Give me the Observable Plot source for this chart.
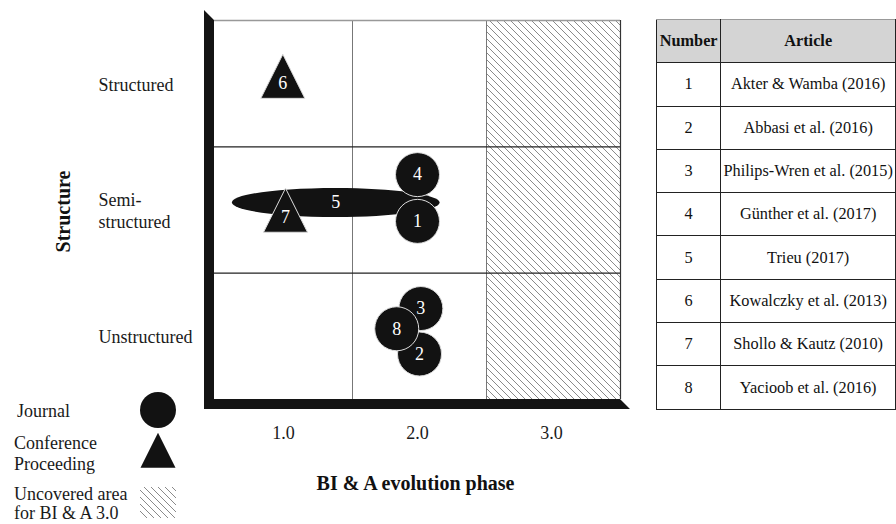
<!DOCTYPE html>
<html><head><meta charset="utf-8">
<script src="https://cdn.jsdelivr.net/npm/d3@7"></script>
<script src="https://cdn.jsdelivr.net/npm/@observablehq/plot@0.6"></script>
<style>
body{margin:0;background:#fff;}
#wrap{position:relative;width:896px;height:524px;overflow:hidden;background:#fff;}
#chart{position:absolute;left:0;top:0;}
#tbl{position:absolute;left:656px;top:19px;border-collapse:collapse;font-family:"Liberation Serif",serif;font-size:16.3px;color:#111;table-layout:fixed;}
#tbl td,#tbl th{padding:0;text-align:center;height:42.3px;border:1px solid #222;white-space:nowrap;}
#tbl th{background:#d4d4d4;border-top:1px solid #999;font-weight:bold;}
</style></head><body>
<div id="wrap"><div id="chart"></div><table id="tbl"></table></div>
<script>
// ---- data ----
const phases = [1, 2, 3];
const phaseLabels = ["1.0", "2.0", "3.0"];
const structureLabels = ["Unstructured", "Semi-\nstructured", "Structured"];
const uncoveredPhase = 3;
const articleNumbers = [1, 2, 3, 4, 5, 6, 7, 8];
const articleNames = ["Akter & Wamba (2016)", "Abbasi et al. (2016)", "Philips-Wren et al. (2015)", "Günther et al. (2017)", "Trieu (2017)", "Kowalczky et al. (2013)", "Shollo & Kautz (2010)", "Yacioob et al. (2016)"];
const articleTypes = ["Journal", "Journal", "Journal", "Journal", "Journal", "Conference Proceeding", "Conference Proceeding", "Journal"];
const articlePhase = [1.985, 2.0, 2.01, 1.985, 1.375, 0.98, 1.0, 1.83];
const articleStructure = [1.91, 0.86, 1.22, 2.28, 2.06, 3.0, 1.94, 1.06];
const articleSpan = [null, null, null, null, [0.6, 2.15], null, null, null];
const legendLabels = ["Journal", "Conference\nProceeding", "Uncovered area\nfor BI & A 3.0"];

// ---- symbols ----
const tallTriangle = {draw(ctx, size) {
  const r = Math.sqrt(size / Math.PI), h = 2 * r, w = 2 * r;
  ctx.moveTo(0, -2 * h / 3); ctx.lineTo(w / 2, h / 3); ctx.lineTo(-w / 2, h / 3); ctx.closePath();
}};
const flatEllipse = {draw(ctx, size) {
  const rx = Math.sqrt(size / Math.PI), ry = rx * 0.14, k = 0.5523;
  ctx.moveTo(-rx, 0);
  ctx.bezierCurveTo(-rx, -ry * k, -rx * k, -ry, 0, -ry);
  ctx.bezierCurveTo(rx * k, -ry, rx, -ry * k, rx, 0);
  ctx.bezierCurveTo(rx, ry * k, rx * k, ry, 0, ry);
  ctx.bezierCurveTo(-rx * k, ry, -rx, ry * k, -rx, 0);
  ctx.closePath();
}};

const W = 896, H = 524, mL = 214, mR = 276, mT = 20, mB = 125;
const xDom = [0.47, 3.5], yDom = [0.5, 3.5];
const pxPerPhase = (W - mL - mR) / (xDom[1] - xDom[0]);
const rows = articleNumbers.map((n, i) => ({
  n, name: articleNames[i], type: articleTypes[i],
  x: articleSpan[i] ? (articleSpan[i][0] + articleSpan[i][1]) / 2 : articlePhase[i],
  y: articleStructure[i], span: articleSpan[i]
}));
const spanned = rows.filter(d => d.span);
const journals = rows.filter(d => !d.span && d.type === "Journal");
const conferences = rows.filter(d => !d.span && d.type !== "Journal");
const rowBounds = d3.range(1, structureLabels.length).map(i => i + 0.5);
const font = "'Liberation Serif', 'Times New Roman', serif";

const chart = Plot.plot({
  width: W, height: H, marginLeft: mL, marginRight: mR, marginTop: mT, marginBottom: mB,
  x: {domain: xDom, axis: null},
  y: {domain: yDom, axis: null},
  style: {fontFamily: font, background: "white", overflow: "visible", color: "#111"},
  marks: [
    Plot.rect([uncoveredPhase], {x1: d => d - 0.5, x2: d => d + 0.5, y1: yDom[0], y2: yDom[1], fill: "url(#hatch)"}),
    Plot.ruleX(phases.slice(1), {x: d => d - 0.5, stroke: "#777", strokeWidth: 1}),
    Plot.ruleY(rowBounds, {stroke: "#222", strokeWidth: 1.3}),
    Plot.ruleY([yDom[1]], {stroke: "#999", strokeWidth: 1.5}),
    Plot.ruleX([xDom[1]], {stroke: "#333", strokeWidth: 1.2}),
    ...spanned.map(d => Plot.dot([d], {x: "x", y: "y", r: (d.span[1] - d.span[0]) / 2 * pxPerPhase, symbol: flatEllipse, fill: "#121212"})),
    Plot.dot(journals, {x: "x", y: "y", r: 22, fill: "#121212", stroke: "#ddd", strokeWidth: 1}),
    Plot.dot(conferences, {x: "x", y: "y", r: 22, symbol: tallTriangle, fill: "#121212", stroke: "#ddd", strokeWidth: 1}),
    Plot.text(rows, {x: "x", y: "y", text: d => String(d.n), fill: "white", fontSize: 18}),
    Plot.text(structureLabels, {x: xDom[0], y: (d, i) => i + 1, dx: -116, textAnchor: "start", fontSize: 18, lineHeight: 1.22, fill: "#1a1a1a"}),
    Plot.text(["Structure"], {x: xDom[0], y: 2, dx: -151, dy: 1.5, rotate: -90, fontWeight: "bold", fontSize: 20, fill: "#111"}),
    Plot.text(phases, {x: d => d, y: yDom[0], dy: 34, dx: -2, text: (d, i) => phaseLabels[i], fontSize: 18, fill: "#1a1a1a"}),
    Plot.text(["BI & A evolution phase"], {x: 2, y: yDom[0], dy: 84, dx: -4, fontWeight: "bold", fontSize: 20, fill: "#111"})
  ]
});
document.getElementById("chart").appendChild(chart);

// hatch pattern
const svg = d3.select(chart);
const defs = svg.insert("defs", ":first-child");
const hs = 7;
const pat = defs.append("pattern").attr("id", "hatch").attr("patternUnits", "userSpaceOnUse").attr("width", hs).attr("height", hs);
pat.append("rect").attr("width", hs).attr("height", hs).attr("fill", "white");
pat.append("path").attr("d", `M0,0L${hs},${hs}M-1,${hs - 1}L1,${hs + 1}M${hs - 1},-1L${hs + 1},1`).attr("stroke", "#8a8a8a").attr("stroke-width", 1);

// thick axes
const sx = chart.scale("x"), sy = chart.scale("y");
const L = sx.apply(xDom[0]), R = sx.apply(xDom[1]), T = sy.apply(yDom[1]), B = sy.apply(yDom[0]), t = 10;
svg.append("path").attr("d", `M${L - t},${T - t}L${L},${T}L${L},${B}L${R},${B}L${R + t},${B + t}L${L - t},${B + t}Z`).attr("fill", "#141414");

// legend
const lg = svg.append("g").attr("text-anchor", "start").style("font-family", font).style("font-size", "18px").attr("fill", "#1a1a1a");
const legendY = [[411], [443, 464], [494, 513]];
legendLabels.forEach((lab, i) => {
  lab.split("\n").forEach((line, j) => {
    lg.append("text").attr("x", i === 0 ? 17 : 14).attr("y", legendY[i][j]).attr("dy", "0.35em")
      .attr("text-anchor", "start").style("font-family", font).text(line);
  });
});
lg.append("path").attr("transform", "translate(158,410)").attr("d", d3.symbol(d3.symbolCircle, 18 * 18 * Math.PI)()).attr("fill", "#121212");
lg.append("path").attr("transform", "translate(158,456)").attr("d", d3.symbol(tallTriangle, 17.5 * 17.5 * Math.PI)()).attr("fill", "#121212");
lg.append("rect").attr("x", 140).attr("y", 487).attr("width", 36).attr("height", 31).attr("fill", "url(#hatch)");

// table
const tbl = d3.select("#tbl");
const cg = tbl.append("colgroup");
cg.append("col").style("width", "66px");
cg.append("col").style("width", "176px");
const hr = tbl.append("tr");
hr.append("th").text("Number");
hr.append("th").text("Article");
articleNumbers.forEach((n, i) => {
  const tr = tbl.append("tr");
  tr.append("td").text(n);
  tr.append("td").text(articleNames[i]);
});
</script>
</body></html>
